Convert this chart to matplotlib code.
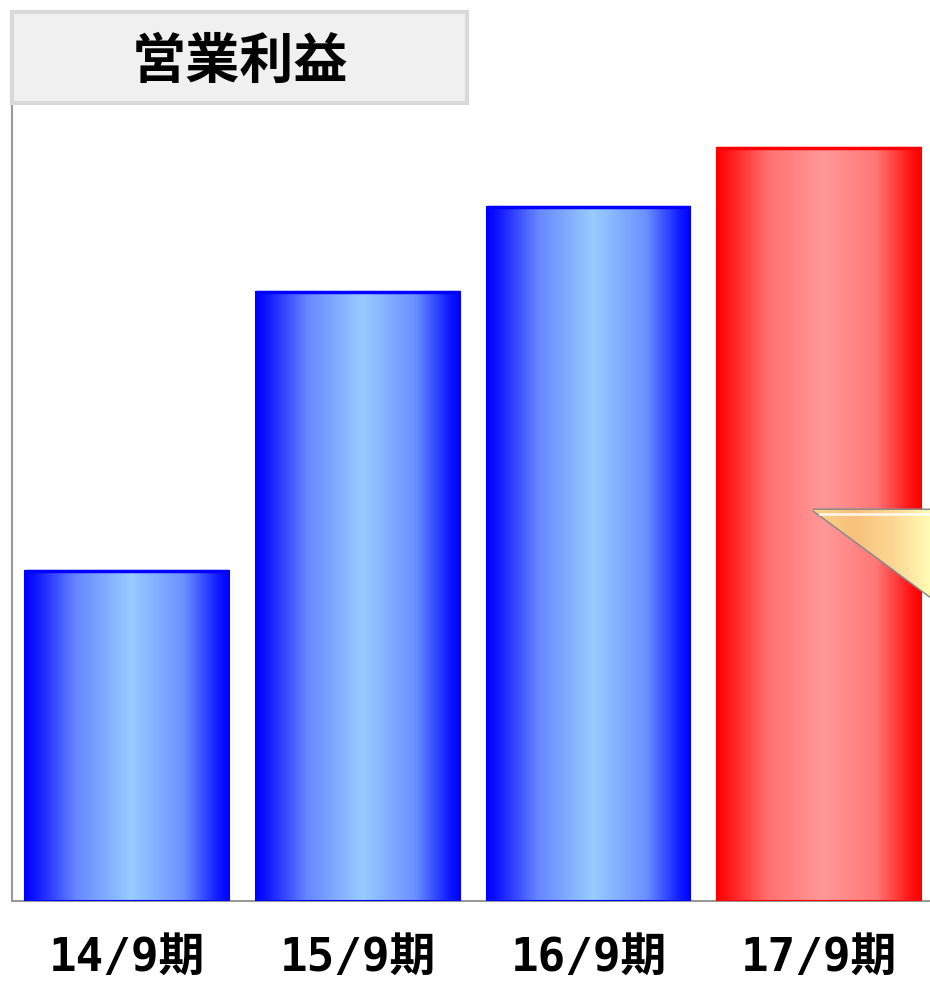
import numpy as np
import matplotlib
matplotlib.use('Agg')
import matplotlib.pyplot as plt
from matplotlib.patches import Rectangle, Polygon
from matplotlib.colors import LinearSegmentedColormap

plt.rcParams['font.family'] = ['Noto Sans CJK JP', 'DejaVu Sans']

# data (relative heights, no axis scale shown)
periods = ['14/9期', '15/9期', '16/9期', '17/9期']
profit = [330, 609, 694, 753]
is_forecast = [False, False, False, True]
title = '営業利益'

W, H = 930, 982
fig = plt.figure(figsize=(W / 100, H / 100), dpi=100)
ax = fig.add_axes([12 / W, 81 / H, 922.5 / W, 801 / H])

blue_cm = LinearSegmentedColormap.from_list('b', [
    (0.0, (0, 0, 1)), (0.05, (0.06, 0.08, 1)), (0.25, (0.4, 0.53, 1)),
    (0.52, (0.6, 0.8, 1)), (0.78, (0.42, 0.57, 1)), (0.95, (0.06, 0.1, 1)),
    (1.0, (0, 0, 1))])
red_cm = LinearSegmentedColormap.from_list('r', [
    (0.0, (1, 0, 0)), (0.05, (1, 0.08, 0.08)), (0.25, (1, 0.44, 0.44)),
    (0.52, (1, 0.6, 0.6)), (0.78, (1, 0.47, 0.47)), (0.95, (1, 0.08, 0.08)),
    (1.0, (1, 0, 0))])

x = np.arange(len(periods))
bw = 0.883
grad = np.linspace(0, 1, 256).reshape(1, -1)
bars = ax.bar(x, profit, width=bw, color='none', zorder=3)
for b, fc in zip(bars, is_forecast):
    cm = red_cm if fc else blue_cm
    edge = (1, 0, 0) if fc else (0, 0, 1)
    x0, y0 = b.get_x(), b.get_y()
    w, h = b.get_width(), b.get_height()
    im = ax.imshow(grad, cmap=cm, aspect='auto', extent=(x0, x0 + w, y0, y0 + h),
                   zorder=2, interpolation='bilinear')
    im.set_clip_path(b)
    b.set_edgecolor(edge)
    b.set_linewidth(1.5)
    ax.plot([x0, x0 + w], [y0 + h, y0 + h], color=edge, lw=2.5, zorder=4,
            solid_capstyle='butt')
    ax.plot([x0, x0 + w], [-2, -2], color=(0.3, 0.35, 1) if not fc else (1, 0.3, 0.3),
            lw=2, zorder=4, solid_capstyle='butt')

ax.set_xlim(-0.5, 3.5)
ax.set_ylim(0, 801)
ax.set_yticks([])
ax.set_xticks(x)
ax.set_xticklabels(periods, fontsize=33, fontweight='bold',
                   family=['DejaVu Sans Mono', 'Noto Sans CJK JP'])
ax.tick_params(axis='x', length=0, pad=25)
for s in ['top', 'right']:
    ax.spines[s].set_visible(False)
ax.spines['left'].set_color('#999999')
ax.spines['left'].set_linewidth(1.5)
ax.spines['bottom'].set_color('#999999')
ax.spines['bottom'].set_linewidth(1.5)

# overlay in pixel coordinates for title box and callout fragment
ov = fig.add_axes([0, 0, 1, 1], zorder=10)
ov.set_xlim(0, W)
ov.set_ylim(H, 0)
ov.axis('off')
ov.patch.set_alpha(0)

ov.add_patch(Rectangle((12, 12), 455, 91, facecolor='#f0f0f0', edgecolor='#d9d9d9', lw=3))
ov.text(240, 62, title, fontsize=39, fontweight='bold', ha='center', va='center')

tri = Polygon([(813, 510), (935, 510), (935, 600)], closed=True,
              facecolor='none', edgecolor='#8a8a8a', lw=2.2)
ov.add_patch(tri)
call_cm = LinearSegmentedColormap.from_list('c', ['#fbd48a', '#f8c07a', '#fcd894', '#ffffb8'])
tim = ov.imshow(grad, cmap=call_cm, aspect='auto', extent=(813, 935, 600, 510), zorder=1)
tim.set_clip_path(tri)
ov.plot([820, 935], [514, 514], color='white', lw=2, alpha=0.8)
ov.set_xlim(0, W)
ov.set_ylim(H, 0)

fig.savefig('out.png', dpi=100)
